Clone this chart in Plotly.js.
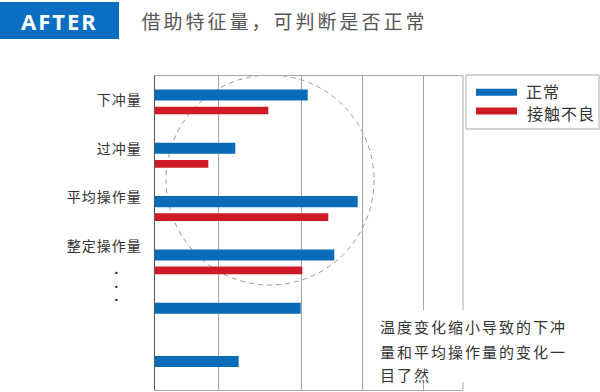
<!DOCTYPE html>
<html><head><meta charset="utf-8">
<script src="https://cdn.plot.ly/plotly-3.0.1.min.js"></script>
<style>
body{margin:0;background:#fff}
.annotation-text{letter-spacing:2px}
.annotation[data-index="1"] .annotation-text{letter-spacing:3px}
.annotation[data-index="2"] .annotation-text,
.annotation[data-index="3"] .annotation-text{letter-spacing:1px}
.ytick text{letter-spacing:1px}
</style>
</head><body>
<div id="chart" style="width:600px;height:392px"></div>
<script>
// ---- data ----
const categories = ['下冲量','过冲量','平均操作量','整定操作量','',''];
const seriesNames = ['正常','接触不良'];
const normalValues = [152.7, 80.3, 202.7, 179.3, 145.7, 83.7];
const badValues = [113.3, 53.3, 173.3, 147.3, null, null];
const tickLabels = ['下冲量','过冲量','平均操作量','整定操作量'];
const titleBox = 'AFTER';
const subtitle = '借助特征量，可判断是否正常';
const noteLines = ['温度变化缩小导致的下冲','量和平均操作量的变化一','目了然'];

// ---- style ----
const BLUE = '#0a6bb8', RED = '#cf1b25';
const FONT = '"Noto Sans CJK SC", "Noto Sans", sans-serif';
const ML = 155, MR = 137, MT = 76, MB = 2, W = 600, H = 392;
const PW = W - ML - MR, PH = H - MT - MB;
const X = px => (px - ML) / PW;           // pixel -> paper x
const Y = py => (H - MB - py) / PH;       // pixel -> paper y
const yIdx = categories.map((c, i) => i);

const traces = [
  {type:'bar', orientation:'h', name:seriesNames[0], x:normalValues, y:yIdx,
   offset:-0.249, width:0.208, marker:{color:BLUE}, showlegend:false, hoverinfo:'skip'},
  {type:'bar', orientation:'h', name:seriesNames[1], x:badValues, y:yIdx,
   offset:0.074, width:0.143, marker:{color:RED}, showlegend:false, hoverinfo:'skip'}
];

const shapes = [
  // dashed circle
  {type:'circle', xref:'x', yref:'y', x0:11, x1:219, y0:-0.52, y1:3.42,
   line:{color:'#999', width:1, dash:'5px,4px'}, layer:'below'},
  // right border
  {type:'line', xref:'paper', yref:'paper', x0:1, x1:1, y0:0, y1:1, line:{color:'#aaa', width:1}},
  // note box background
  {type:'rect', xref:'paper', yref:'paper', x0:X(372), x1:X(580), y0:Y(382), y1:Y(310),
   fillcolor:'#fff', line:{width:0}, layer:'above'},
  // title box
  {type:'rect', xref:'paper', yref:'paper', x0:X(0), x1:X(119), y0:Y(39), y1:Y(2),
   fillcolor:'#0a6fc2', line:{width:0}},
  // legend box
  {type:'rect', xref:'paper', yref:'paper', x0:X(466), x1:X(599), y0:Y(129), y1:Y(75),
   fillcolor:'#fff', line:{color:'#aaa', width:1}},
  {type:'line', xref:'paper', yref:'paper', x0:X(476), x1:X(517), y0:Y(92.3), y1:Y(92.3),
   line:{color:BLUE, width:7}},
  {type:'line', xref:'paper', yref:'paper', x0:X(476), x1:X(517), y0:Y(111), y1:Y(111),
   line:{color:RED, width:7}}
];

const ann = (text, px, py, size, color, extra) => Object.assign({
  text, xref:'paper', yref:'paper', x:X(px), y:Y(py), xanchor:'left', yanchor:'middle',
  showarrow:false, borderpad:0, font:{family:FONT, size, color}}, extra||{});

const annotations = [
  ann(titleBox, 20, 20.5, 22, '#fff', {font:{family:'"Noto Sans", sans-serif', size:22, color:'#fff', weight:700}}),
  ann(subtitle, 147, 20, 19, '#555'),
  ann(seriesNames[0], 524, 91, 16, '#333'),
  ann(seriesNames[1], 524, 113, 16, '#333'),
  ann(noteLines[0], 379, 326, 15, '#333'),
  ann(noteLines[1], 379, 351.5, 15, '#333'),
  ann(noteLines[2], 379, 374, 15, '#333'),
  ann('•<br>•<br>•', 117, 286, 10.5, '#222', {xanchor:'center'})
];

const layout = {
  width:W, height:H, margin:{l:ML, r:MR, t:MT, b:MB, pad:0},
  paper_bgcolor:'#fff', plot_bgcolor:'#fff', showlegend:false,
  font:{family:FONT},
  xaxis:{range:[0, PW], tickvals:[63.3, 146.7, 207.3, 268.3], showticklabels:false,
         showgrid:true, gridcolor:'#a6a6a6', gridwidth:1, zeroline:false,
         showline:true, mirror:true, linecolor:'#aaa', linewidth:1, ticks:''},
  yaxis:{range:[5.389, -0.502], tickvals:[-0.05, 0.87, 1.77, 2.69], ticktext:tickLabels,
         showgrid:false, zeroline:false, showline:true, linecolor:'#555', linewidth:1.5,
         ticks:'', ticklabelstandoff:9, tickfont:{family:FONT, size:14, color:'#333'}},
  shapes, annotations
};

Plotly.newPlot('chart', traces, layout, {displayModeBar:false, staticPlot:true});
</script>
</body></html>
